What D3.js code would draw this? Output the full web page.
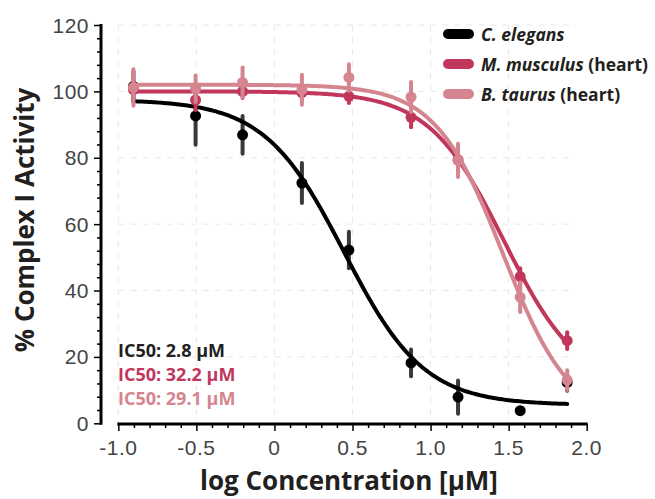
<!DOCTYPE html>
<html><head><meta charset="utf-8">
<script src="https://cdn.jsdelivr.net/npm/d3@7"></script>
<style>
html,body{margin:0;padding:0;background:#fff;}
svg{display:block;font-family:"Open Sans","Lato",sans-serif;}
</style></head>
<body>
<svg id="chart" width="655" height="499"></svg>
<script>
// ---- data ----
const logConc = [-0.903, -0.505, -0.204, 0.176, 0.477, 0.875, 1.176, 1.574, 1.875];
const elegans = [101.5, 92.6, 86.9, 72.4, 52.2, 18.2, 7.9, 3.8, 12.3];
const elegansErr = [4.5, 8.7, 5.7, 6, 5.5, 4, 5, 0, 2.5];
const musculus = [100.5, 97.4, 100, 99.6, 98.5, 92.2, 79.4, 44.2, 24.9];
const musculusErr = [3, 3, 2, 2, 2, 3, 3, 2.5, 2.5];
const taurus = [101.2, 100.8, 102.7, 100.5, 104.2, 98.3, 79.2, 38, 13];
const taurusErr = [5.5, 4, 4.5, 4.5, 4, 4.5, 5, 4.5, 3];

const seriesNames = ["C. elegans", "M. musculus", "B. taurus"];
const seriesSuffix = ["", " (heart)", " (heart)"];
const seriesColors = ["#000000", "#c1375b", "#d5858f"];
const errColors = ["#3a3a3a", "#c1375b", "#d5858f"];
const ic50Labels = ["IC50: 2.8 μM", "IC50: 32.2 μM", "IC50: 29.1 μM"];
// four-parameter logistic fit parameters
const fitTop = [97.5, 100, 102];
const fitBottom = [5.5, 10, 0];
const fitLogIC50 = [0.447, 1.47, 1.464];
const fitHill = [1.7, 1.8, 2.0];

const xTicks = [-1.0, -0.5, 0, 0.5, 1.0, 1.5, 2.0];
const yTicks = [0, 20, 40, 60, 80, 100, 120];
const xTitle = "log Concentration [μM]";
const yTitle = "% Complex I Activity";

const values = [elegans, musculus, taurus];
const errs = [elegansErr, musculusErr, taurusErr];

// ---- layout ----
const svg = d3.select("#chart");
const x = d3.scaleLinear().domain([-1, 2]).range([118.3, 586.7]);
const y = d3.scaleLinear().domain([0, 120]).range([423.3, 25]);
const yAxisX = 101;
const xAxisY = 424;

// grid
const grid = svg.append("g");
grid.selectAll("line.v").data(xTicks.filter(d => d < 2)).join("line")
  .attr("x1", d => x(d)).attr("x2", d => x(d))
  .attr("y1", y(120)).attr("y2", y(0))
  .attr("stroke", "#e8e8e8").attr("stroke-width", 1).attr("stroke-dasharray", "6,6");
grid.selectAll("line.h").data(yTicks.filter(d => d > 0)).join("line")
  .attr("x1", x(-1)).attr("x2", x(1.93))
  .attr("y1", d => y(d)).attr("y2", d => y(d))
  .attr("stroke", "#e8e8e8").attr("stroke-width", 1).attr("stroke-dasharray", "6,6");

// y axis
const yAxis = svg.append("g").attr("transform", `translate(${yAxisX},0)`);
yAxis.call(d3.axisLeft(y).tickValues(d3.range(0, 121, 4)).tickSize(4).tickFormat(""));
yAxis.call(g => g.selectAll(".tick").filter(d => d % 20 === 0).select("line").attr("x2", -7));
yAxis.selectAll(".tick line").attr("stroke", "#000").attr("stroke-width", 1.5);
yAxis.select(".domain").remove();
yAxis.append("line").attr("x1", 0).attr("x2", 0).attr("y1", y(120) - 1).attr("y2", y(0) + 1.5)
  .attr("stroke", "#000").attr("stroke-width", 3);
yAxis.selectAll("text.lab").data(yTicks).join("text")
  .attr("x", -12).attr("y", d => y(d)).attr("dy", "0.36em")
  .attr("text-anchor", "end").attr("font-size", 21).attr("fill", "#444")
  .attr("letter-spacing", 0.5)
  .text(d => d);

// x axis
const xAxis = svg.append("g").attr("transform", `translate(0,${xAxisY})`);
xAxis.call(d3.axisBottom(x).tickValues(d3.range(-10, 21, 1).map(d => d / 10)).tickSize(4).tickFormat(""));
xAxis.call(g => g.selectAll(".tick").filter(d => Math.abs(d * 2 - Math.round(d * 2)) < 1e-6).select("line").attr("y2", 7));
xAxis.selectAll(".tick line").attr("stroke", "#000").attr("stroke-width", 1.5);
xAxis.select(".domain").remove();
xAxis.append("line").attr("x1", x(-1) - 1).attr("x2", x(2) + 1).attr("y1", 0).attr("y2", 0)
  .attr("stroke", "#000").attr("stroke-width", 3);
xAxis.selectAll("text.lab").data(xTicks).join("text")
  .attr("x", d => x(d)).attr("y", 31)
  .attr("text-anchor", "middle").attr("font-size", 21).attr("fill", "#444")
  .attr("letter-spacing", 0.5)
  .text(d => d === 0 ? "0" : d.toFixed(1));

// titles
svg.append("text").attr("x", 349).attr("y", 490).attr("text-anchor", "middle")
  .attr("font-size", 26).attr("font-weight", 700).attr("fill", "#231f20").text(xTitle);
svg.append("text").attr("transform", "translate(34,220) rotate(-90)").attr("text-anchor", "middle")
  .attr("font-size", 26).attr("font-weight", 700).attr("fill", "#231f20").text(yTitle);

// series
const curveX = d3.range(0, 201).map(i => logConc[0] + (logConc[logConc.length - 1] - logConc[0]) * i / 200);
const line = d3.line().x(d => x(d[0])).y(d => y(d[1])).curve(d3.curveLinear);
values.forEach((vals, s) => {
  const g = svg.append("g");
  g.selectAll("line.err").data(logConc.map((c, i) => [c, vals[i], errs[s][i]])).join("line")
    .attr("x1", d => x(d[0])).attr("x2", d => x(d[0]))
    .attr("y1", d => y(d[1] + d[2])).attr("y2", d => y(d[1] - d[2]))
    .attr("stroke", errColors[s]).attr("stroke-width", 4).attr("stroke-linecap", "round");
  const pts = curveX.map(c => [c, fitBottom[s] + (fitTop[s] - fitBottom[s]) / (1 + Math.pow(10, (c - fitLogIC50[s]) * fitHill[s]))]);
  g.append("path").attr("d", line(pts)).attr("fill", "none")
    .attr("stroke", seriesColors[s]).attr("stroke-width", 4).attr("stroke-linecap", "round");
  g.selectAll("circle").data(logConc.map((c, i) => [c, vals[i]])).join("circle")
    .attr("cx", d => x(d[0])).attr("cy", d => y(d[1])).attr("r", 5.5)
    .attr("fill", seriesColors[s]);
});

// legend
const leg = svg.append("g");
seriesNames.forEach((n, i) => {
  const yy = 34 + i * 30;
  leg.append("line").attr("x1", 448).attr("x2", 469).attr("y1", yy).attr("y2", yy)
    .attr("stroke", seriesColors[i]).attr("stroke-width", 10).attr("stroke-linecap", "round");
  const t = leg.append("text").attr("x", 481).attr("y", yy + 7)
    .attr("font-size", 17.5).attr("font-weight", 700).attr("fill", "#231f20");
  t.append("tspan").attr("font-style", "italic").text(n);
  if (seriesSuffix[i]) t.append("tspan").text(seriesSuffix[i]);
});

// IC50 labels
ic50Labels.forEach((l, i) => {
  svg.append("text").attr("x", 118).attr("y", 357 + i * 24)
    .attr("font-size", 18).attr("font-weight", 700)
    .attr("fill", i === 0 ? "#231f20" : seriesColors[i]).text(l);
});
</script>
</body></html>
